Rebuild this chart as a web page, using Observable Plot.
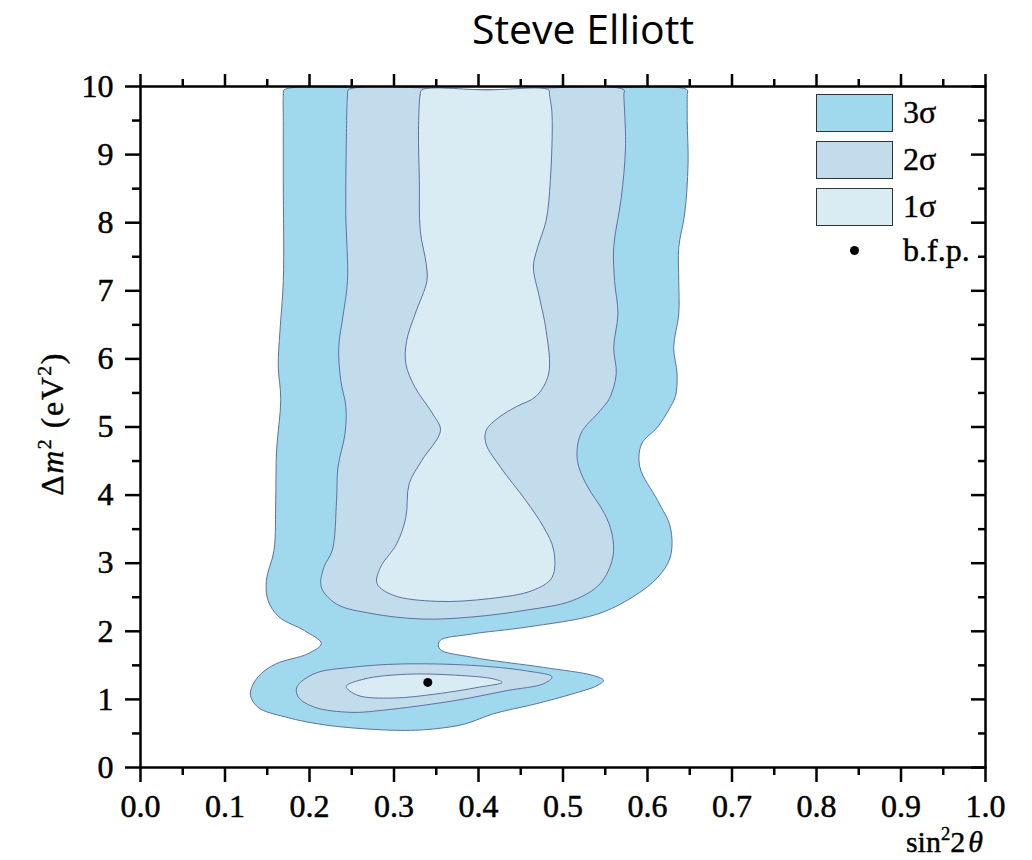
<!DOCTYPE html>
<html>
<head>
<meta charset="utf-8">
<script src="https://cdn.jsdelivr.net/npm/d3@7"></script>
<script src="https://cdn.jsdelivr.net/npm/@observablehq/plot@0.6"></script>
<style>
  html, body { margin: 0; padding: 0; background: #fff; }
  #wrap { position: relative; width: 1032px; height: 860px; overflow: hidden; }
  #title { position: absolute; top: 0; left: 583px; transform: translateX(-50%); font-family: "Open Sans", sans-serif; font-size: 41px; line-height: normal; font-weight: 500; color: #000; white-space: nowrap; }
  #chart { position: absolute; top: 60px; left: 0; }
  .serif { font-family: "Liberation Serif", "Times New Roman", serif; color: #000; white-space: nowrap; -webkit-text-stroke: 0.4px #000; }
  .lg-box { position: absolute; left: 816px; width: 75px; height: 36px; border: 1px solid #333; }
  .lg-lab { position: absolute; left: 903px; font-size: 32px; line-height: 32px; }
  .lg-dot { position: absolute; left: 849.5px; top: 245.5px; width: 9px; height: 9px; border-radius: 50%; background: #000; }
  .sup { font-size: 0.62em; vertical-align: 0.62em; line-height: 0; }
  #ylabel { position: absolute; left: 52px; top: 424px; font-size: 32px; line-height: 32px; letter-spacing: 1.5px; transform: translate(-50%, -50%) rotate(-90deg); }
  #xlabel { position: absolute; right: 49px; top: 827px; font-size: 30px; line-height: 30px; }
</style>
</head>
<body>
<div id="wrap">
  <div id="title">Steve Elliott</div>
  <div id="chart"></div>
  <div id="legend"></div>
  <div id="ylabel" class="serif">Δ<i>m</i><span class="sup">2</span> (eV<span class="sup">2</span>)</div>
  <div id="xlabel" class="serif">sin<span class="sup">2</span>2<i style="margin-left:3px">θ</i></div>
</div>
<script>
// ---- data (sin^2 2θ, Δm^2 in eV^2) ----
const sigma3Outline = [
  [0.170, 9.95], [0.169, 9.88], [0.169, 9.5], [0.169, 8.6], [0.169, 7.15], [0.165, 6.4], [0.163, 5.9],
  [0.166, 5.4], [0.161, 4.65], [0.160, 3.92], [0.158, 3.19], [0.149, 2.75], [0.151, 2.45], [0.164, 2.21],
  [0.194, 2.01], [0.214, 1.82], [0.198, 1.67], [0.160, 1.52], [0.139, 1.33], [0.130, 1.08], [0.139, 0.885],
  [0.172, 0.74], [0.223, 0.617], [0.308, 0.545], [0.350, 0.57], [0.384, 0.64], [0.418, 0.79], [0.468, 0.935],
  [0.511, 1.08], [0.540, 1.20], [0.548, 1.28], [0.536, 1.35], [0.477, 1.47], [0.392, 1.62], [0.354, 1.74],
  [0.354, 1.86], [0.392, 1.96], [0.456, 2.06], [0.540, 2.25], [0.582, 2.50], [0.612, 2.79], [0.627, 3.09],
  [0.627, 3.53], [0.612, 3.92], [0.591, 4.41], [0.593, 4.75], [0.612, 5.00], [0.625, 5.25], [0.633, 5.45],
  [0.635, 5.78], [0.631, 6.17], [0.637, 6.66], [0.637, 7.15], [0.637, 7.64], [0.644, 8.13], [0.648, 8.86],
  [0.647, 9.5], [0.647, 9.88], [0.647, 9.95], [0.49, 9.95], [0.33, 9.95]
];
const sigma2UpperOutline = [
  [0.246, 9.95], [0.245, 9.88], [0.2435, 9.11], [0.243, 8.13], [0.245, 7.15], [0.240, 6.66], [0.2346, 6.17],
  [0.237, 5.68], [0.243, 5.3], [0.242, 4.90], [0.2337, 4.41], [0.232, 3.92], [0.227, 3.19], [0.217, 2.94],
  [0.214, 2.65], [0.232, 2.40], [0.274, 2.26], [0.333, 2.18], [0.392, 2.21], [0.456, 2.31], [0.511, 2.45],
  [0.544, 2.70], [0.559, 3.09], [0.558, 3.43], [0.549, 3.73], [0.527, 4.17], [0.517, 4.51], [0.521, 4.90],
  [0.544, 5.24], [0.555, 5.42], [0.563, 5.78], [0.560, 6.17], [0.565, 6.66], [0.561, 7.15], [0.560, 7.64],
  [0.569, 8.37], [0.574, 9.11], [0.572, 9.88], [0.572, 9.95], [0.41, 9.95]
];
const sigma2LowerOutline = [
  [0.185, 1.18], [0.206, 1.38], [0.249, 1.47], [0.308, 1.52], [0.392, 1.50], [0.456, 1.42], [0.487, 1.33],
  [0.477, 1.23], [0.434, 1.13], [0.371, 0.98], [0.286, 0.84], [0.249, 0.81], [0.206, 0.885], [0.187, 1.03]
];
const sigma1UpperOutline = [
  [0.333, 9.95], [0.331, 9.88], [0.329, 9.35], [0.330, 8.62], [0.331, 7.89], [0.338, 7.40], [0.339, 7.15],
  [0.325, 6.66], [0.315, 6.27], [0.314, 5.93], [0.325, 5.58], [0.346, 5.19], [0.355, 4.95], [0.333, 4.51],
  [0.318, 4.17], [0.314, 3.67], [0.303, 3.28], [0.284, 2.94], [0.280, 2.70], [0.299, 2.53], [0.350, 2.44],
  [0.413, 2.48], [0.464, 2.60], [0.487, 2.79], [0.489, 3.19], [0.477, 3.53], [0.456, 3.92], [0.426, 4.41],
  [0.409, 4.75], [0.409, 4.95], [0.424, 5.14], [0.445, 5.30], [0.468, 5.45], [0.483, 5.78], [0.480, 6.42],
  [0.472, 6.91], [0.465, 7.35], [0.470, 7.64], [0.480, 8.03], [0.485, 8.62], [0.487, 9.60], [0.484, 9.88],
  [0.483, 9.95], [0.41, 9.95]
];
const sigma1LowerOutline = [
  [0.2435, 1.19], [0.265, 1.30], [0.316, 1.37], [0.380, 1.35], [0.418, 1.30], [0.428, 1.25],
  [0.401, 1.18], [0.350, 1.08], [0.299, 1.02], [0.257, 1.06]
];
const bestFitPoint = [[0.34, 1.25]];

const xTicks = [0, 0.1, 0.2, 0.3, 0.4, 0.5, 0.6, 0.7, 0.8, 0.9, 1.0];
const xTickLabels = ["0.0", "0.1", "0.2", "0.3", "0.4", "0.5", "0.6", "0.7", "0.8", "0.9", "1.0"];
const xMinorTicks = [0.05, 0.15, 0.25, 0.35, 0.45, 0.55, 0.65, 0.75, 0.85, 0.95];
const yTicks = [0, 1, 2, 3, 4, 5, 6, 7, 8, 9, 10];
const yTickLabels = ["0", "1", "2", "3", "4", "5", "6", "7", "8", "9", "10"];
const yMinorTicks = [0.5, 1.5, 2.5, 3.5, 4.5, 5.5, 6.5, 7.5, 8.5, 9.5];

const legendItems = ["3σ", "2σ", "1σ"];
const legendPoint = "b.f.p.";

// ---- styles ----
const C3 = "#a0d8ee", C2 = "#c3dceb", C1 = "#d9ecf3", EDGE = "#5d72a0";
const SERIF = "'Liberation Serif', 'Times New Roman', serif";

const region = (pts, fill) => Plot.line(pts, {
  x: d => d[0], y: d => d[1], curve: "catmull-rom-closed",
  fill, stroke: EDGE, strokeWidth: 1, strokeLinejoin: "round"
});

const AX = {strokeWidth: 2.5, stroke: "black"};
const TXT = {fill: "black", fontSize: 32, fontFamily: SERIF, textStroke: "black", textStrokeWidth: 0.5};

const chart = Plot.plot({
  width: 1032, height: 800,
  marginTop: 26, marginLeft: 140, marginRight: 47, marginBottom: 93,
  x: {domain: [0, 1]},
  y: {domain: [0, 10]},
  style: {fontFamily: SERIF, fontSize: "32px", color: "black", background: "white"},
  marks: [
    region(sigma3Outline, C3),
    region(sigma2UpperOutline, C2),
    region(sigma2LowerOutline, C2),
    region(sigma1UpperOutline, C1),
    region(sigma1LowerOutline, C1),
    Plot.dot(bestFitPoint, {x: d => d[0], y: d => d[1], r: 4.5, fill: "black", stroke: "none"}),
    Plot.frame({stroke: "black", strokeWidth: 2.5}),
    Plot.axisX(xTicks, {anchor: "bottom", tickSize: 15, tickPadding: 12, ...AX, ...TXT,
      tickFormat: (d, i) => xTickLabels[i], label: null}),
    Plot.axisX(xMinorTicks, {anchor: "bottom", tickSize: 8, ...AX, fill: "none", label: null}),
    Plot.axisX(xTicks, {anchor: "top", tickSize: 13, ...AX, fill: "none", label: null}),
    Plot.axisX(xMinorTicks, {anchor: "top", tickSize: 8, ...AX, fill: "none", label: null}),
    Plot.axisY(yTicks, {anchor: "left", tickSize: 15, tickPadding: 12, ...AX, ...TXT,
      tickFormat: (d, i) => yTickLabels[i], label: null}),
    Plot.axisY(yMinorTicks, {anchor: "left", tickSize: 8, ...AX, fill: "none", label: null}),
    Plot.axisY(yTicks, {anchor: "right", tickSize: 15, insetRight: 15, ...AX, fill: "none", label: null}),
    Plot.axisY(yMinorTicks, {anchor: "right", tickSize: 8, insetRight: 8, ...AX, fill: "none", label: null})
  ]
});
document.getElementById("chart").appendChild(chart);

// legend (HTML overlay inside the frame, top-right)
const legend = document.getElementById("legend");
const fills = [C3, C2, C1];
const boxTops = [94, 141, 188];
legendItems.forEach((lab, i) => {
  const b = document.createElement("div");
  b.className = "lg-box"; b.style.top = boxTops[i] + "px"; b.style.background = fills[i];
  legend.appendChild(b);
  const l = document.createElement("div");
  l.className = "lg-lab serif"; l.style.top = (boxTops[i] + 2) + "px"; l.textContent = lab;
  legend.appendChild(l);
});
const dot = document.createElement("div"); dot.className = "lg-dot"; legend.appendChild(dot);
const bl = document.createElement("div"); bl.className = "lg-lab serif"; bl.style.top = "234px"; bl.textContent = legendPoint;
legend.appendChild(bl);
</script>
</body>
</html>
